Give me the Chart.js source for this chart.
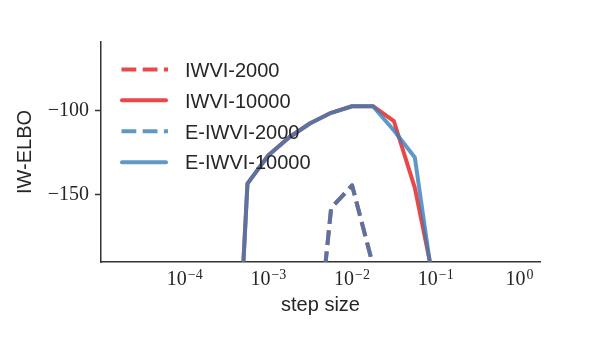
<!DOCTYPE html>
<html><head><meta charset="utf-8">
<script src="https://cdn.jsdelivr.net/npm/chart.js@4.4.1/dist/chart.umd.min.js"></script>
<style>html,body{margin:0;padding:0;background:#fff}canvas{display:block}</style>
</head><body>
<canvas id="c" width="600" height="350"></canvas>
<script>
// ---- data ----
const stepSizes10000 = [3.162e-4, 5.623e-4, 1e-3, 1.778e-3, 3.162e-3, 5.623e-3, 1e-2, 1.778e-2, 3.162e-2, 5.623e-2, 1e-1];
const iwvi10000  = [-385, -143.5, -126.7, -116, -107.7, -101.5, -97.6, -97.6, -106.5, -146, -207];
const eiwvi10000 = [-385, -143.5, -126.7, -116, -107.7, -101.5, -97.6, -97.6, -112, -128, -215];
const stepSizes2000 = [3.162e-3, 5.623e-3, 1e-2, 1.778e-2];
const iwvi2000  = [-280, -158, -144.5, -192];
const eiwvi2000 = [-280, -158, -144.5, -192];
const seriesLabels = ['IWVI-2000', 'IWVI-10000', 'E-IWVI-2000', 'E-IWVI-10000'];
const xTickValues = [1e-4, 1e-3, 1e-2, 1e-1, 1];
const xTickExponents = ['\u22124', '\u22123', '\u22122', '\u22121', '0'];
const yTickValues = [-150, -100];
const yTickLabels = ['\u2212150', '\u2212100'];
const xTitle = 'step size';
const yTitle = 'IW-ELBO';

const RED = 'rgba(228,26,28,0.8)';
const BLUE = 'rgba(55,126,184,0.8)';
const TEXT = '#262626';
const DASH = [14.8, 6.4];

const pts = (xs, ys) => xs.map((x, i) => ({x: x, y: ys[i]}));

const datasets = [
  {label: seriesLabels[0], data: pts(stepSizes2000, iwvi2000), borderColor: RED, borderDash: DASH, order: 4},
  {label: seriesLabels[1], data: pts(stepSizes10000, iwvi10000), borderColor: RED, borderCapStyle: 'round', order: 3},
  {label: seriesLabels[2], data: pts(stepSizes2000, eiwvi2000), borderColor: BLUE, borderDash: DASH, order: 2},
  {label: seriesLabels[3], data: pts(stepSizes10000, eiwvi10000), borderColor: BLUE, borderCapStyle: 'round', order: 1}
].map(d => Object.assign({borderWidth: 4, pointRadius: 0, fill: false, tension: 0, clip: 0, borderJoinStyle: 'round'}, d));

const overlayPlugin = {
  id: 'overlay',
  afterDraw(chart) {
    const ctx = chart.ctx;
    const xs = chart.scales.x;
    ctx.save();
    // x tick labels with superscript exponents
    ctx.fillStyle = TEXT;
    ctx.textBaseline = 'alphabetic';
    xTickValues.forEach((v, i) => {
      const px = xs.getPixelForValue(v);
      ctx.font = '20px "Liberation Serif"';
      const w1 = ctx.measureText('10').width;
      ctx.font = '14px "Liberation Serif"';
      const w2 = ctx.measureText(xTickExponents[i]).width;
      const start = px - (w1 + w2 + 1) / 2;
      ctx.font = '20px "Liberation Serif"';
      ctx.textAlign = 'left';
      ctx.fillText('10', start, 285);
      ctx.font = '14px "Liberation Serif"';
      ctx.fillText(xTickExponents[i], start + w1 + 1, 279);
    });
    // legend
    const rows = [69.5, 100.3, 131.3, 162.2];
    chart.data.datasets.forEach((d, i) => {
      const y = rows[i];
      ctx.beginPath();
      ctx.strokeStyle = d.borderColor;
      ctx.lineWidth = 4;
      if (d.borderDash) {
        ctx.setLineDash(d.borderDash);
        ctx.lineCap = 'butt';
        ctx.moveTo(121.5, y); ctx.lineTo(168, y);
      } else {
        ctx.setLineDash([]);
        ctx.lineCap = 'round';
        ctx.moveTo(122, y); ctx.lineTo(166, y);
      }
      ctx.stroke();
      ctx.setLineDash([]);
      ctx.fillStyle = TEXT;
      ctx.font = '20px "Liberation Sans"';
      ctx.textAlign = 'left';
      ctx.textBaseline = 'alphabetic';
      ctx.fillText(d.label, 185, y + 7.2);
    });
    ctx.restore();
  }
};

new Chart(document.getElementById('c'), {
  type: 'line',
  data: {datasets: datasets},
  options: {
    responsive: false,
    animation: false,
    events: [],
    layout: {padding: {left: 0, right: 60, top: 42, bottom: 0}},
    plugins: {legend: {display: false}, tooltip: {enabled: false}},
    scales: {
      x: {
        type: 'logarithmic',
        min: 1e-5,
        max: 1.76,
        afterBuildTicks: s => { s.ticks = xTickValues.map(v => ({value: v})); },
        afterFit: s => { s.height = 88; },
        ticks: {display: false},
        grid: {display: false},
        border: {display: true, color: '#333', width: 1.5},
        title: {display: true, text: xTitle, color: TEXT, font: {family: 'Liberation Sans', size: 20}, padding: {top: 0, bottom: 33}}
      },
      y: {
        type: 'linear',
        min: -190,
        max: -59.5,
        afterBuildTicks: s => { s.ticks = yTickValues.map(v => ({value: v})); },
        afterFit: s => { s.width = 101; },
        ticks: {
          color: TEXT,
          font: {family: 'Liberation Serif', size: 20},
          padding: 6,
          callback: v => yTickLabels[yTickValues.indexOf(v)]
        },
        grid: {display: true, drawOnChartArea: false, drawTicks: true, tickLength: 6, tickColor: '#333', tickWidth: 1.5},
        border: {display: true, color: '#333', width: 1.5},
        title: {display: true, text: yTitle, color: TEXT, font: {family: 'Liberation Sans', size: 20}, padding: {top: 13, bottom: 0}}
      }
    }
  },
  plugins: [overlayPlugin]
});
</script>
</body></html>
